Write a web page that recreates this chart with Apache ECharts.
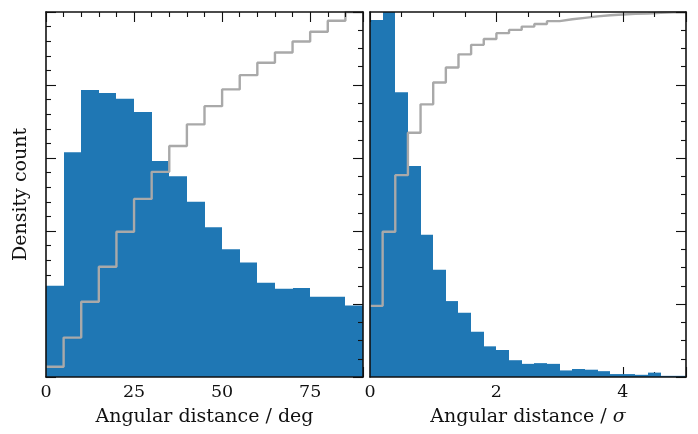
<!DOCTYPE html>
<html>
<head>
<meta charset="utf-8">
<script src="https://cdn.jsdelivr.net/npm/echarts@6/dist/echarts.min.js"></script>
<style>
html,body{margin:0;padding:0;background:#fff;}
#chart{width:698px;height:434px;}
</style>
</head>
<body>
<div id="chart"></div>
<script>
// ---- data ----
const degEdges = [0,5,10,15,20,25,30,35,40,45,50,55,60,65,70,75,80,85,90];
const degDensity = [12.5,30.8,39.3,38.9,38.1,36.3,29.6,27.5,24.0,20.5,17.5,15.7,12.9,12.1,12.2,11.0,11.0,9.8];
const degCumulative = [0.028,0.108,0.206,0.302,0.398,0.488,0.562,0.633,0.692,0.742,0.788,0.827,0.861,0.889,0.919,0.946,0.976,1.0];

const sigEdges = [0,0.2,0.4,0.6,0.8,1.0,1.2,1.4,1.6,1.8,2.0,2.2,2.4,2.6,2.8,3.0,3.2,3.4,3.6,3.8,4.0,4.2,4.4,4.6,4.8,5.0];
const sigDensity = [48.9,51.1,39.0,28.9,19.5,14.7,10.4,8.8,6.2,4.2,3.7,2.3,1.8,1.9,1.8,0.9,1.1,1.0,0.8,0.4,0.4,0.3,0.6,0.16,0.16];
const sigCumulative = [0.195,0.398,0.553,0.669,0.747,0.807,0.848,0.884,0.910,0.926,0.942,0.951,0.960,0.967,0.975,0.980,0.984,0.988,0.991,0.993,0.995,0.996,0.998,0.999,0.999];

const degTicks = {min:0, max:90, interval:25, minorSplit:5};
const sigTicks = {min:0, max:5, interval:2, minorSplit:4};
const xNames = ['Angular distance / deg', 'Angular distance / {i|σ}'];
const yName = 'Density count';

// ---- styling ----
const FONT = 'DejaVu Serif';
const TICK_FS = 17.5;
const NAME_FS = 19;
const BAR = '#1f77b4';
const CUM = '#a9a9a9';
const INK = '#111';
const FRAME_W = 1.6;

function barData(edges, vals){ return vals.map((v,i)=>[edges[i], edges[i+1], v]); }
function stepData(edges, cum){
  const d = cum.map((c,i)=>[edges[i], c]);
  d.push([edges[edges.length-1], cum[cum.length-1]]);
  return d;
}
function renderBar(params, api){
  const p0 = api.coord([api.value(0), 0]);
  const p1 = api.coord([api.value(1), api.value(2)]);
  const x0 = Math.round(p0[0]), x1 = Math.round(p1[0]);
  const cs = params.coordSys;
  const r = echarts.graphic.clipRectByRect(
    {x:x0, y:p1[1], width:x1-x0, height:p0[1]-p1[1]},
    {x:cs.x, y:cs.y, width:cs.width, height:cs.height});
  if(!r) return;
  return {type:'rect', shape:r, style:{fill:BAR}};
}

const tickStyle = {color:INK, width:1.1};
function xAxes(grid, t, name){
  const base = {type:'value', gridIndex:grid, min:t.min, max:t.max, interval:t.interval, splitLine:{show:false}};
  return [
    Object.assign({}, base, {position:'bottom', z:1,
      axisLine:{show:false},
      axisTick:{show:true, inside:true, length:10, lineStyle:tickStyle},
      minorTick:{show:true, splitNumber:t.minorSplit, length:5, lineStyle:tickStyle},
      axisLabel:{show:true, color:INK, fontFamily:FONT, fontSize:TICK_FS, margin:6, showMaxLabel:false},
      name:name, nameLocation:'middle', nameGap:31,
      nameTextStyle:{color:INK, fontFamily:FONT, fontSize:NAME_FS, rich:{i:{fontStyle:'italic', fontFamily:FONT, fontSize:NAME_FS, color:INK}}}
    }),
    Object.assign({}, base, {position:'top', z:10,
      axisLine:{show:true, onZero:false, lineStyle:{color:INK, width:FRAME_W}},
      axisTick:{show:true, inside:true, length:10, lineStyle:tickStyle},
      minorTick:{show:true, splitNumber:t.minorSplit, length:5, lineStyle:tickStyle},
      axisLabel:{show:false}
    }),
    Object.assign({}, base, {position:'bottom', z:10,
      axisLine:{show:true, onZero:false, lineStyle:{color:INK, width:FRAME_W}},
      axisTick:{show:false}, minorTick:{show:false}, axisLabel:{show:false}
    })
  ];
}
const densAxisBase = {type:'value', min:0, max:50, interval:10, splitLine:{show:false}, axisLabel:{show:false}};
const cumAxisBase = {type:'value', min:0, max:1, interval:0.2, splitLine:{show:false}, axisLabel:{show:false}};

const option = {
  animation:false,
  backgroundColor:'#fff',
  grid:[
    {left:46, top:12, width:317, height:365, outerBoundsMode:'none', containLabel:false},
    {left:370, top:12, width:316, height:365, outerBoundsMode:'none', containLabel:false}
  ],
  xAxis: [].concat(xAxes(0, degTicks, xNames[0]), xAxes(1, sigTicks, xNames[1])),
  yAxis: [
    Object.assign({}, densAxisBase, {gridIndex:0, position:'left', z:1,
      axisLine:{show:false},
      axisTick:{show:true, inside:true, length:10, lineStyle:tickStyle},
      minorTick:{show:true, splitNumber:5, length:5, lineStyle:tickStyle},
      name:yName, nameLocation:'middle', nameGap:15,
      nameTextStyle:{color:INK, fontFamily:FONT, fontSize:NAME_FS}
    }),
    Object.assign({}, cumAxisBase, {gridIndex:0, position:'right', z:10,
      axisLine:{show:true, onZero:false, lineStyle:{color:INK, width:FRAME_W}},
      axisTick:{show:true, inside:true, length:10, lineStyle:tickStyle},
      minorTick:{show:true, splitNumber:4, length:5, lineStyle:tickStyle}
    }),
    Object.assign({}, densAxisBase, {gridIndex:0, position:'left', z:10,
      axisLine:{show:true, onZero:false, lineStyle:{color:INK, width:FRAME_W}},
      axisTick:{show:false}, minorTick:{show:false}
    }),
    Object.assign({}, densAxisBase, {gridIndex:1, position:'left', z:10,
      axisLine:{show:true, onZero:false, lineStyle:{color:INK, width:FRAME_W}},
      axisTick:{show:false}, minorTick:{show:false}
    }),
    Object.assign({}, cumAxisBase, {gridIndex:1, position:'right', z:10,
      axisLine:{show:true, onZero:false, lineStyle:{color:INK, width:FRAME_W}},
      axisTick:{show:true, inside:true, length:10, lineStyle:tickStyle},
      minorTick:{show:true, splitNumber:4, length:5, lineStyle:tickStyle}
    })
  ],
  series:[
    {type:'custom', xAxisIndex:0, yAxisIndex:0, z:2, renderItem:renderBar, data:barData(degEdges, degDensity), silent:true},
    {type:'line', xAxisIndex:0, yAxisIndex:1, z:5, step:'end', showSymbol:false, symbol:'none',
      lineStyle:{color:CUM, width:2.4}, data:stepData(degEdges, degCumulative), silent:true},
    {type:'custom', xAxisIndex:3, yAxisIndex:3, z:2, renderItem:renderBar, data:barData(sigEdges, sigDensity), silent:true},
    {type:'line', xAxisIndex:3, yAxisIndex:4, z:5, step:'end', showSymbol:false, symbol:'none',
      lineStyle:{color:CUM, width:2.4}, data:stepData(sigEdges, sigCumulative), silent:true}
  ]
};
const chart = echarts.init(document.getElementById('chart'), null, {renderer:'canvas'});
chart.setOption(option);
</script>
</body>
</html>
